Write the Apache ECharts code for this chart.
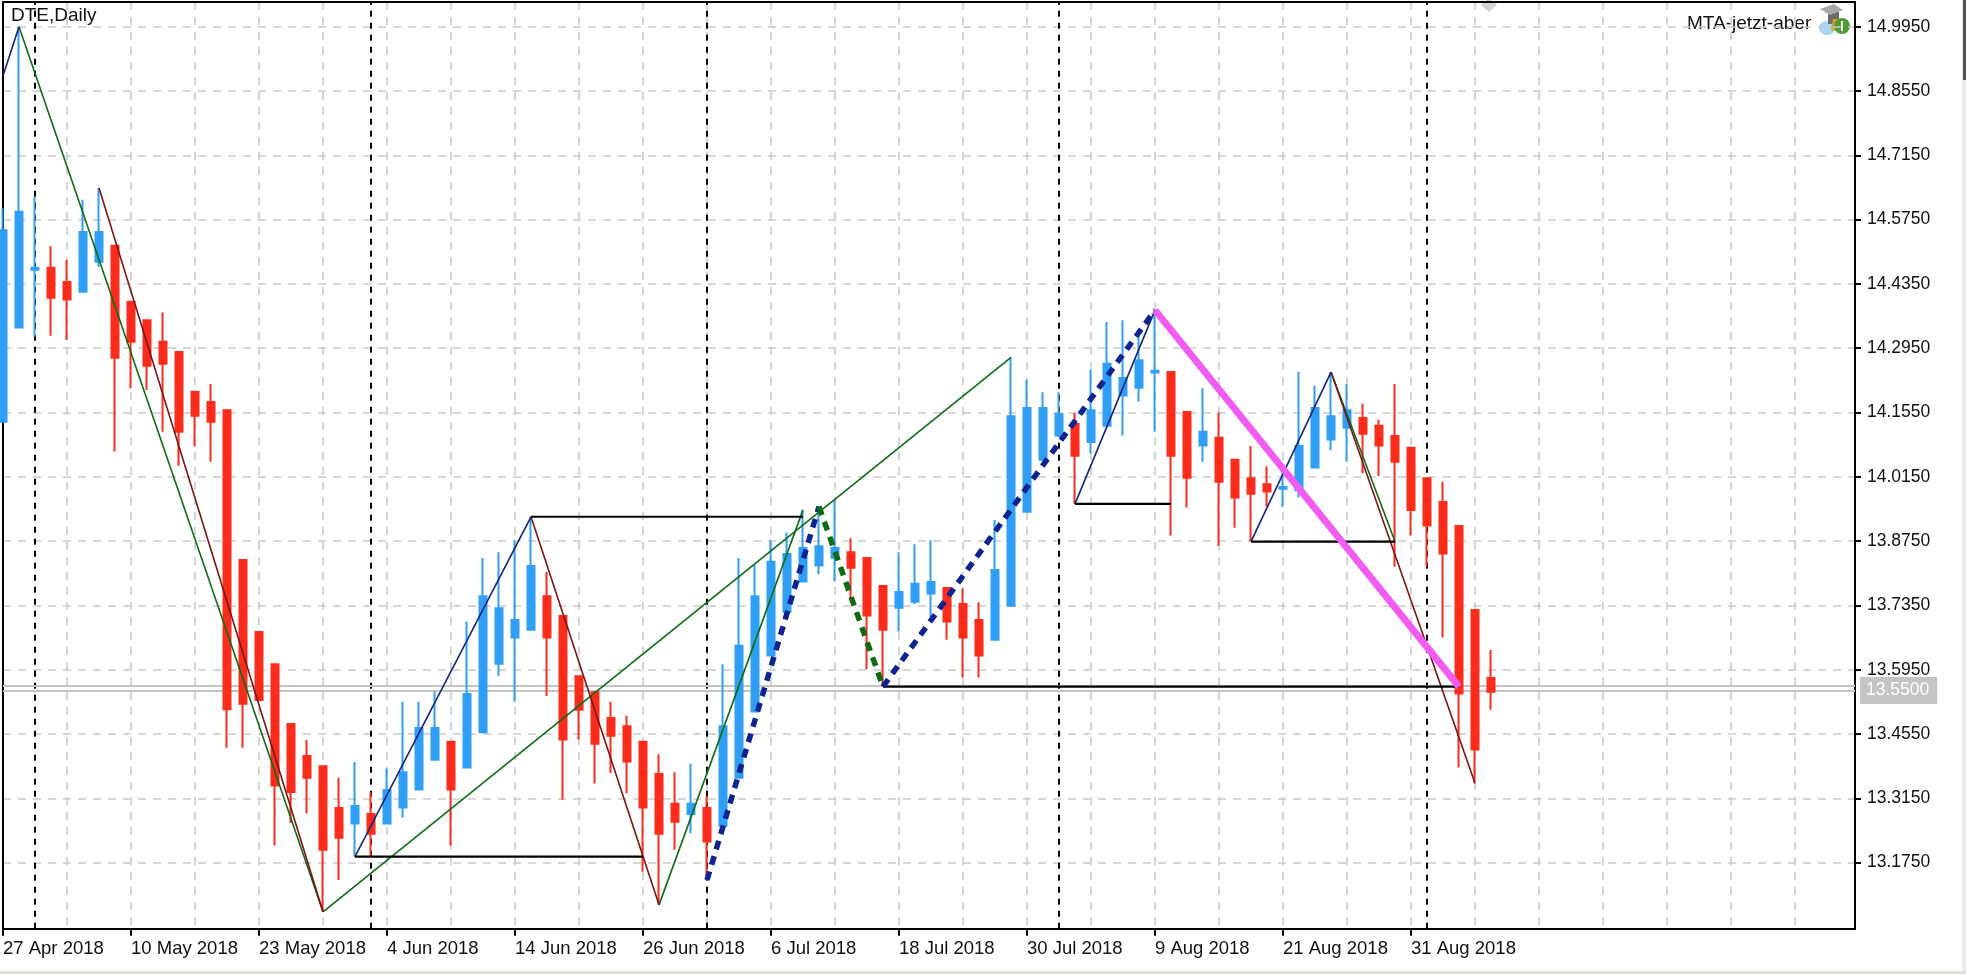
<!DOCTYPE html>
<html><head><meta charset="utf-8">
<style>html,body{margin:0;padding:0;background:#fff}#c{width:1966px;height:974px}</style>
<script src="https://cdn.jsdelivr.net/npm/echarts@6/dist/echarts.min.js"></script>
</head><body><div id="c"></div>
<script>
const opens=[14.135,14.340,14.466,14.470,14.439,14.418,14.483,14.518,14.396,14.356,14.309,14.287,14.200,14.178,14.160,13.834,13.677,13.607,13.477,13.407,13.385,13.294,13.260,13.281,13.260,13.295,13.334,13.399,13.438,13.382,13.459,13.608,13.665,13.682,13.755,13.712,13.581,13.546,13.490,13.472,13.438,13.368,13.303,13.281,13.294,13.255,13.360,13.504,13.626,13.721,13.787,13.822,13.839,13.851,13.838,13.777,13.730,13.743,13.761,13.773,13.738,13.703,13.660,13.734,13.939,14.052,14.105,14.130,14.091,14.126,14.192,14.209,14.242,14.243,14.156,14.083,14.100,14.052,14.012,13.999,13.989,13.986,14.035,14.096,14.122,14.143,14.126,14.104,14.078,14.012,13.960,13.908,13.725,13.577];
const closes=[14.552,14.592,14.470,14.405,14.401,14.548,14.548,14.274,14.309,14.257,14.261,14.113,14.148,14.135,13.509,13.521,13.529,13.343,13.329,13.360,13.203,13.229,13.298,13.238,13.333,13.372,13.468,13.468,13.334,13.542,13.755,13.729,13.703,13.821,13.665,13.443,13.508,13.434,13.451,13.395,13.295,13.238,13.264,13.303,13.221,13.472,13.647,13.755,13.830,13.847,13.860,13.864,13.860,13.817,13.713,13.682,13.764,13.782,13.786,13.700,13.665,13.626,13.812,14.147,14.165,14.165,14.152,14.061,14.160,14.261,14.230,14.269,14.246,14.061,14.013,14.113,14.004,13.970,13.978,13.983,13.993,14.082,14.165,14.147,14.160,14.109,14.083,14.048,13.943,13.909,13.848,13.543,13.421,13.547];
const lows=[14.135,14.340,14.320,14.322,14.313,14.418,14.472,14.070,14.208,14.204,14.113,14.039,14.081,14.048,13.425,13.425,13.529,13.212,13.261,13.282,13.068,13.137,13.188,13.188,13.260,13.273,13.334,13.399,13.212,13.382,13.459,13.582,13.525,13.682,13.538,13.312,13.443,13.347,13.370,13.326,13.155,13.083,13.203,13.239,13.137,13.255,13.360,13.504,13.626,13.721,13.787,13.803,13.787,13.747,13.596,13.558,13.678,13.738,13.710,13.660,13.578,13.578,13.660,13.734,13.939,14.052,14.105,13.956,14.066,14.126,14.105,14.179,14.113,13.887,13.948,14.048,13.865,13.904,13.874,13.950,13.949,13.970,14.035,14.073,14.048,14.023,14.017,13.819,13.887,13.819,13.665,13.382,13.348,13.508];
const highs=[14.600,14.995,14.625,14.517,14.487,14.618,14.644,14.518,14.396,14.356,14.373,14.287,14.200,14.217,14.160,13.834,13.677,13.607,13.477,13.442,13.385,13.360,13.394,13.328,13.380,13.525,13.525,13.547,13.438,13.700,13.838,13.851,13.877,13.928,13.808,13.712,13.581,13.546,13.525,13.495,13.438,13.411,13.372,13.390,13.319,13.607,13.838,13.823,13.877,13.894,13.943,13.950,13.965,13.881,13.838,13.777,13.851,13.868,13.877,13.773,13.772,13.742,13.921,14.275,14.226,14.199,14.199,14.154,14.248,14.352,14.356,14.328,14.378,14.243,14.156,14.208,14.155,14.052,14.082,14.038,14.038,14.244,14.213,14.243,14.217,14.174,14.139,14.217,14.078,14.012,14.004,13.908,13.725,13.638];
const priceTicks=[13.175,13.315,13.455,13.595,13.735,13.875,14.015,14.155,14.295,14.435,14.575,14.715,14.855,14.995];
const dateBars=[0,8,16,24,32,40,48,56,64,72,80,88];
const dateLabels=['27 Apr 2018','10 May 2018','23 May 2018','4 Jun 2018','14 Jun 2018','26 Jun 2018','6 Jul 2018','18 Jul 2018','30 Jul 2018','9 Aug 2018','21 Aug 2018','31 Aug 2018'];
const separatorBars=[2,23,44,66,89];
const bidPrice=13.5575, askPrice=13.55;
const thinNavy=[[[0,14.888],[1,14.995]],[[22,13.188],[33,13.928]],[[67,13.956],[72,14.378]],[[78,13.874],[83,14.243]]];
const thinGreen=[[[1,14.995],[20,13.068]],[[20,13.068],[63,14.275]],[[41,13.083],[50,13.943]],[[83,14.243],[87,13.874]]];
const thinBrown=[[[6,14.644],[20,13.068]],[[33,13.928],[41,13.083]],[[83,14.243],[92,13.348]]];
const blackLevels=[[[22,13.188],[40,13.188]],[[33,13.928],[50,13.928]],[[55,13.558],[91,13.558]],[[67,13.956],[73,13.956]],[[78,13.874],[87,13.874]]];
const dashNavy=[[[44,13.137],[51,13.950]],[[55,13.558],[72,14.378]]];
const dashGreen=[[[51,13.950],[55,13.558]]];
const magentaLeg=[[72,14.378],[91,13.558]];

const FONT='"Liberation Sans"';
const candles=opens.map((o,i)=>[i,o,closes[i],lows[i],highs[i]]);
const lineSeries=(legs,color,width,type)=>legs.map(d=>({type:'line',data:d,symbol:'none',z:5,silent:true,animation:false,
  lineStyle:{color,width,type:type||'solid',cap:'butt'}}));
const gridStyle={show:true,lineStyle:{color:'#cacaca',width:1.6,type:[8,7]}};
const chart=echarts.init(document.getElementById('c'),null,{renderer:'canvas'});
chart.setOption({
  animation:false,backgroundColor:'#fff',
  grid:{left:3,right:111,top:2,bottom:45.3,show:false},
  title:{text:'DTE,Daily',left:11,top:6,padding:0,textStyle:{fontFamily:FONT,fontSize:19,fontWeight:'normal',color:'#111'}},
  xAxis:[{type:'value',min:0,max:115.75,interval:8,position:'bottom',
      axisLine:{show:true,onZero:false,lineStyle:{color:'#000',width:2}},
      axisTick:{show:true,length:7,inside:false,customValues:dateBars,lineStyle:{color:'#000',width:2}},
      axisLabel:{show:true,customValues:dateBars,align:'left',margin:11,fontFamily:FONT,fontSize:18.5,color:'#111',
        formatter:v=>dateLabels[dateBars.indexOf(v)]||''},
      splitLine:{show:false}},
    {type:'value',min:0,max:115.75,interval:4,position:'top',
      axisLine:{show:true,onZero:false,lineStyle:{color:'#000',width:2}},
      axisTick:{show:false},axisLabel:{show:false},splitLine:gridStyle}],
  yAxis:[{type:'value',min:13.0311,max:15.0488,position:'right',
      axisLine:{show:true,onZero:false,lineStyle:{color:'#000',width:2}},
      axisTick:{show:true,length:6,customValues:priceTicks,lineStyle:{color:'#000',width:2}},
      axisLabel:{show:true,customValues:priceTicks,margin:12,fontFamily:FONT,fontSize:17.5,color:'#111',formatter:v=>v.toFixed(4)},
      splitLine:gridStyle},
    {type:'value',min:13.0311,max:15.0488,position:'left',
      axisLine:{show:true,onZero:false,lineStyle:{color:'#000',width:2}},
      axisTick:{show:false},axisLabel:{show:false},splitLine:{show:false}}],
  series:[
    {type:'line',data:[],symbol:'none',z:2,silent:true,
      markLine:{z:1,silent:true,symbol:'none',animation:false,label:{show:false},
        lineStyle:{color:'#000',width:2,type:[6,6]},
        data:separatorBars.map(x=>({xAxis:x}))}},
    {type:'line',data:[],symbol:'none',z:2,silent:true,
      markLine:{z:1,silent:true,symbol:'none',animation:false,
        lineStyle:{color:'#c4c4c4',width:2,type:'solid'},
        data:[{yAxis:bidPrice,label:{show:false}},
          {yAxis:askPrice,label:{show:true,position:'end',distance:5,formatter:askPrice.toFixed(4),backgroundColor:'#c4c4c4',color:'#fff',
            fontFamily:FONT,fontSize:17.5,padding:[5,8,4,6]}}]}},
    {type:'candlestick',data:candles,encode:{x:0,y:[1,2,3,4]},barWidth:8,z:3,silent:true,
      itemStyle:{color:'#2f9ff5',borderColor:'#2f9ff5',color0:'#fb2c1c',borderColor0:'#fb2c1c',borderWidth:2}},
    ...lineSeries(thinGreen,'#0e6b14',1.6),
    ...lineSeries(thinBrown,'#7d1414',1.6),
    ...lineSeries(thinNavy,'#14247e',1.6),
    ...lineSeries(blackLevels,'#000',2.2),
    ...lineSeries(dashNavy,'#0c2390',5.5,[9,7]),
    ...lineSeries(dashGreen,'#0d6b14',5.5,[9,7]),
    ...lineSeries([magentaLeg],'#f25cf2',7)
  ],
  graphic:[
    {type:'rect',shape:{x:1962,y:0,width:4,height:974},style:{fill:'#e8e8e4'},silent:true},
    {type:'rect',shape:{x:1963,y:0,width:3,height:80},style:{fill:'#555'},silent:true},
    {type:'rect',shape:{x:0,y:971,width:1966,height:3},style:{fill:'#e0e0dc'},silent:true},
    {type:'polygon',shape:{points:[[1489,-2],[1497,5],[1489,12],[1481,5]]},style:{fill:'#d4d4d4'},silent:true},
    {type:'text',x:1687,y:14,style:{text:'MTA-jetzt-aber',font:'19px '+FONT,fill:'#111'},silent:true},
    {type:'ellipse',shape:{cx:1827,cy:28,rx:8,ry:7},style:{fill:'#a9d6f5'},silent:true},
    {type:'rect',shape:{x:1828,y:12,width:11,height:12},style:{fill:'#6b6b6b'},silent:true},
    {type:'polygon',shape:{points:[[1820,9],[1834,4],[1843,10],[1830,15]]},style:{fill:'#a8a8a8'},silent:true},
    {type:'polygon',shape:{points:[[1833,19],[1838,19],[1836,31],[1831,30]]},style:{fill:'#d9a520'},silent:true},
    {type:'circle',shape:{cx:1842,cy:26,r:8},style:{fill:'#4f9a35'},silent:true},
    {type:'rect',shape:{x:1841,y:21,width:2,height:10},style:{fill:'#f2f7e6'},silent:true}
  ]
});
</script></body></html>
